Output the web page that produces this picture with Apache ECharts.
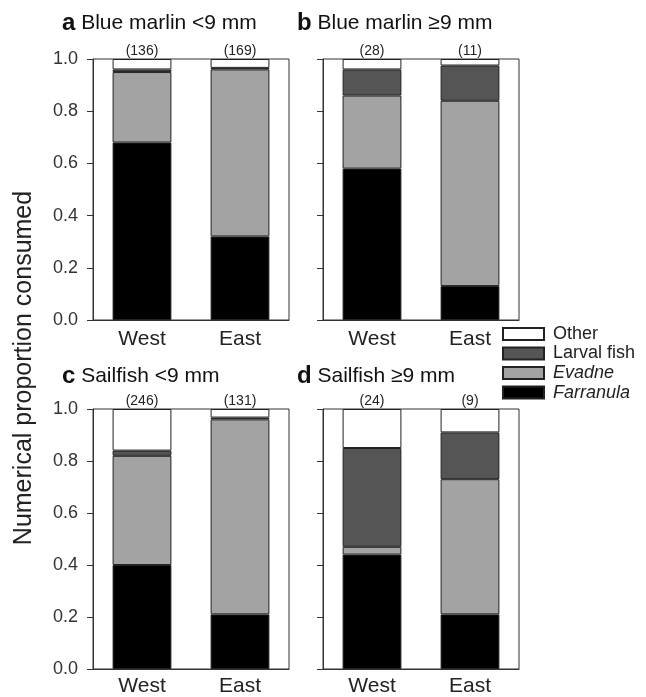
<!DOCTYPE html>
<html><head><meta charset="utf-8">
<script src="https://cdn.jsdelivr.net/npm/echarts@6/dist/echarts.min.js"></script>
<style>html,body{margin:0;padding:0;background:#fff}#c{width:646px;height:697px}</style>
</head><body><div id="c"></div>
<script>
const categories = ['West', 'East'];
const panelTitles = [['a', 'Blue marlin <9 mm'], ['b', 'Blue marlin \u22659 mm'], ['c', 'Sailfish <9 mm'], ['d', 'Sailfish \u22659 mm']];
const sampleSizes = [[136, 169], [28, 11], [246, 131], [24, 9]];
const farranula = [[0.68, 0.32], [0.58, 0.13], [0.40, 0.21], [0.44, 0.21]];
const evadne    = [[0.27, 0.64], [0.28, 0.71], [0.42, 0.75], [0.03, 0.52]];
const larval    = [[0.01, 0.006], [0.10, 0.135], [0.02, 0.007], [0.38, 0.18]];
const other     = [[0.04, 0.034], [0.04, 0.025], [0.16, 0.033], [0.15, 0.09]];
const yTicks = [0, 0.2, 0.4, 0.6, 0.8, 1.0];
const preyNames = ['Farranula', 'Evadne', 'Larval fish', 'Other'];
const preyColors = ['#000000', '#a3a3a3', '#555555', '#ffffff'];
const preyData = [farranula, evadne, larval, other];

const grids = [
  {left: 93, top: 59, width: 196, height: 261},
  {left: 323, top: 59, width: 196, height: 261},
  {left: 93, top: 409, width: 196, height: 260},
  {left: 323, top: 409, width: 196, height: 260}
];
const font = 'Liberation Sans, Arial, sans-serif';
const option = {
  animation: false,
  backgroundColor: '#fff',
  textStyle: {fontFamily: font},
  grid: grids.map(g => Object.assign({show: true, borderColor: '#333', borderWidth: 1, backgroundColor: 'transparent',
    containLabel: false, outerBoundsMode: 'none'}, g)),
  xAxis: grids.map((g, i) => ({
    type: 'category', gridIndex: i, data: categories,
    axisLine: {lineStyle: {color: '#333'}}, axisTick: {show: false},
    axisLabel: {color: '#222', fontSize: 21, margin: i < 2 ? 9 : 7, fontFamily: font}
  })),
  yAxis: grids.map((g, i) => ({
    type: 'value', gridIndex: i, min: yTicks[0], max: yTicks[yTicks.length - 1], interval: 0.2,
    splitLine: {show: false},
    axisLine: {show: true, lineStyle: {color: '#333'}},
    axisTick: {show: true, length: 6, inside: false, lineStyle: {color: '#333'}},
    axisLabel: {show: i % 2 === 0, color: '#333', fontSize: 18, margin: 15, fontFamily: font,
      formatter: v => v.toFixed(1)}
  })),
  title: panelTitles.map((t, i) => ({
    text: '{b|' + t[0] + '} ' + t[1],
    left: i % 2 === 0 ? 62 : 297,
    top: i < 2 ? 11 : 364,
    padding: 0,
    textStyle: {fontSize: 21, fontWeight: 'normal', color: '#111', fontFamily: font,
      rich: {b: {fontSize: 24, fontWeight: 'bold', color: '#111', fontFamily: font}}}
  })),
  legend: {
    orient: 'vertical', left: 502, top: 325, itemWidth: 41, itemHeight: 12, itemGap: 1.5,
    icon: 'rect', padding: 0,
    data: ['Other', 'Larval fish', 'Evadne', 'Farranula'],
    formatter: n => (n === 'Evadne' || n === 'Farranula') ? '{i|' + n + '}' : '{n|' + n + '}',
    textStyle: {fontSize: 18, color: '#222', fontFamily: font, lineHeight: 18, padding: [0, 0, 0, 4],
      rich: {i: {fontStyle: 'italic', fontSize: 18, lineHeight: 18, color: '#222', fontFamily: font},
             n: {fontSize: 18, lineHeight: 18, color: '#222', fontFamily: font}}}
  },
  graphic: [{
    type: 'text', x: 24, y: 368, rotation: Math.PI / 2, originX: 0, originY: 0,
    style: {text: 'Numerical proportion consumed', fontSize: 25, fill: '#222', fontFamily: font,
      align: 'center', verticalAlign: 'middle'}
  }],
  series: []
};
for (let p = 0; p < 4; p++) {
  for (let s = 0; s < 4; s++) {
    const ser = {
      type: 'bar', name: preyNames[s], xAxisIndex: p, yAxisIndex: p, stack: 'p' + p,
      barWidth: '60%', data: preyData[s][p],
      itemStyle: {color: preyColors[s], borderColor: '#222', borderWidth: 1},
      emphasis: {disabled: true}
    };
    if (s === 3) {
      ser.label = {show: true, position: 'top', distance: 1, fontSize: 14, color: '#222', fontFamily: font,
        formatter: prm => '(' + sampleSizes[p][prm.dataIndex] + ')'};
    }
    option.series.push(ser);
  }
}
const chart = echarts.init(document.getElementById('c'), null, {renderer: 'canvas'});
chart.setOption(option);
</script></body></html>
